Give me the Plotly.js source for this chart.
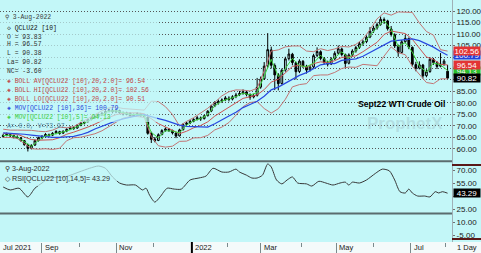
<!DOCTYPE html>
<html><head><meta charset="utf-8">
<script src="https://cdn.plot.ly/plotly-3.0.1.min.js"></script>
<style>html,body{margin:0;padding:0;background:#c3f7f8;overflow:hidden}#chart{width:481px;height:253px}</style>
</head><body><div id="chart"></div><script>
// ---------- DATA ----------
// trading-session index since 2 Aug 2021, one bar per two sessions
const barDay = []; for (let d = 0; d <= 252; d += 2) barDay.push(d);
const openV = [65.4,65.9,66.3,65.8,65.1,64.8,63.6,61.8,60.3,61.7, 63.7,64.8,65.6,66.2,66.0,66.9,67.5,66.9,67.8,68.6,
 69.3,69.1,70.4,71.2,72.0,72.9,73.7,74.2,74.9,75.6, 76.4,76.8,76.1,76.7,75.9,75.0,75.6,74.4,74.8,75.3,
 74.5,73.8,66.9,64.3,63.7,66.3,68.1,68.6,68.0,66.9, 65.7,68.4,70.7,71.3,72.1,72.9,73.5,73.2,74.5,76.5,
 78.8,80.0,80.8,81.4,82.1,81.7,82.8,83.6,84.2,84.8, 83.6,82.6,83.3,86.9,90.5,96.1,103.1,96.3,92.1,88.5,
 94.3,99.3,101.2,97.5,93.7,98.1,96.0,94.4,95.7,100.7, 102.3,99.3,97.6,97.0,99.2,101.7,103.5,101.0,97.3,101.0,
 102.7,104.2,105.9,106.7,108.7,111.3,112.7,114.2,116.3,115.7, 112.2,109.7,104.7,102.0,106.7,108.0,104.2,96.7,95.2,96.5,
 91.9,93.7,98.9,97.5,96.0,97.0,93.83];
const highV = [66.6,67.1,66.8,66.2,65.9,65.2,63.9,62.3,62.0,64.1, 65.3,66.0,66.9,66.7,67.3,68.2,67.9,68.1,69.0,69.9,
 69.8,70.8,71.9,72.5,73.3,74.2,74.6,75.4,76.1,76.9, 77.6,77.3,77.4,77.1,76.3,76.2,75.9,75.5,76.0,75.7,
 75.0,74.1,67.5,65.2,66.8,68.6,69.4,69.0,68.4,67.3, 68.8,71.2,71.8,72.6,73.4,74.3,74.1,74.9,76.9,79.2,
 80.8,81.5,82.0,83.0,82.9,83.4,84.4,85.2,85.9,85.3, 84.2,84.0,90.9,91.5,97.8,110.4,104.5,97.2,93.0,95.0,
 100.1,103.6,101.8,98.0,99.0,98.7,96.6,96.5,101.4,104.2, 102.9,100.0,98.4,99.9,102.5,105.0,104.1,101.5,101.6,103.4,
 104.9,106.6,107.5,109.4,113.0,113.6,115.0,117.6,117.2,116.2, 113.5,110.3,105.4,107.4,109.6,108.5,104.6,97.9,98.1,97.0,
 94.7,99.9,99.6,98.2,101.7,99.1,96.57];
const lowV = [64.9,65.5,65.2,64.6,64.3,63.2,61.4,58.9,59.8,61.3, 63.2,64.2,65.0,65.3,65.6,66.4,66.2,66.5,67.3,68.2,
 68.3,68.8,69.9,70.7,71.5,72.4,73.0,73.7,74.4,75.1, 75.9,75.5,75.6,75.2,74.5,74.6,73.7,73.9,74.5,73.9,
 73.6,66.2,62.6,62.9,63.4,65.9,67.5,67.4,66.3,64.7, 65.4,68.0,70.1,70.8,71.6,72.4,72.2,72.8,74.1,76.0,
 78.2,79.3,80.1,80.8,80.7,81.1,82.1,83.0,83.6,82.9, 81.4,82.0,82.8,86.2,90.0,95.3,95.0,85.6,85.5,88.0,
 93.6,98.5,96.4,90.2,93.0,95.2,92.8,93.7,95.2,99.9, 98.6,96.8,95.9,96.5,98.7,101.0,100.3,95.2,96.8,100.2,
 101.9,103.5,104.9,106.0,108.2,110.5,111.9,113.6,114.4,111.5, 108.9,103.9,100.1,101.5,105.9,103.4,95.8,93.8,94.6,90.6,
 91.2,93.1,96.6,94.8,95.5,96.2,90.38];
const closeV = [65.8,66.4,65.7,65.2,64.9,63.7,61.9,60.2,61.6,63.6, 64.9,65.5,66.3,65.9,66.8,67.6,66.8,67.7,68.5,69.2,
 69.0,70.3,71.3,71.9,72.8,73.6,74.1,74.8,75.5,76.3, 76.9,76.2,76.8,75.8,75.1,75.7,74.3,74.9,75.4,74.4,
 74.2,66.8,64.2,63.6,66.2,68.0,68.7,68.1,67.0,65.6, 68.3,70.6,71.2,72.0,72.8,73.6,73.1,74.4,76.4,78.7,
 80.1,80.7,81.3,82.2,81.6,82.7,83.5,84.1,84.9,83.7, 82.5,83.2,86.8,90.4,96.0,103.2,96.4,92.2,88.4,94.2,
 99.2,101.3,97.6,93.6,98.2,96.1,94.3,95.6,100.6,102.4, 99.4,97.7,96.9,99.1,101.6,103.6,101.1,97.2,100.9,102.6,
 104.1,105.8,106.6,108.6,111.2,112.6,114.1,116.4,115.8,112.3, 109.8,104.8,101.9,106.6,108.1,104.3,96.8,95.1,96.6,91.8,
 93.6,99.0,97.6,95.9,96.9,98.2,90.82];

// indicator curves, one point every four sessions
const indDay = []; for (let d = 0; d <= 252; d += 4) indDay.push(d);
const bollAv = [66.8,66.6,66.4,65.2,64.1,63.8,63.8,64.0,64.9,66.4,67.3,68.3,69.5,70.8,72.3,73.75,
 74.9,75.5,75.7,75.7,75.3,73.1,71.0,69.6,68.1,66.65,67.7,69.2,70.2,71.8,74.3,76.3,
 78.2,80.2,82.0,82.7,83.5,85.8,89.1,90.3,93.0,95.9,96.4,95.5,97.1,97.9,97.5,98.4,
 99.8,100.0,100.5,102.3,104.2,106.4,109.8,111.3,110.75,110.2,107.7,103.6,100.0,98.95,96.8,96.54];
const bollHi = [68.6,68.2,68.2,68.2,68.1,67.7,67.5,68.2,69.5,69.2,69.7,71.5,73.3,75.1,76.6,77.9,
 78.2,77.6,77.3,77.3,76.9,80.8,80.6,78.4,75.0,70.0,72.0,73.6,75.5,77.7,80.3,83.1,
 84.9,85.7,85.6,85.2,86.4,94.0,102.6,103.1,104.4,104.8,104.8,102.6,102.3,103.6,102.8,103.5,
 104.6,104.35,105.5,107.8,111.9,116.6,119.2,118.2,119.6,119.4,119.4,114.8,111.1,109.5,103.2,102.56];
const bollLo = [65.0,65.0,64.6,62.2,60.1,59.9,60.1,59.8,60.3,63.6,64.9,65.1,65.7,66.6,67.9,69.6,
 71.6,73.4,74.1,74.1,73.7,65.4,61.4,60.8,61.2,63.3,63.4,64.8,64.9,65.9,68.3,69.5,
 71.5,74.7,78.4,80.2,80.6,77.6,75.6,77.5,81.6,87.0,88.0,88.4,91.9,92.2,92.2,93.3,
 95.0,95.65,95.5,96.8,96.5,96.2,100.4,104.4,101.9,101.0,96.0,92.4,88.9,88.4,90.5,90.51];
const mov36 = [67.0,66.9,66.7,66.4,66.0,65.6,65.3,65.0,65.0,65.2,65.5,66.2,67.2,68.7,69.9,71.1,
 72.2,73.1,73.9,74.5,74.9,74.2,73.2,72.4,71.4,70.35,69.8,69.6,69.4,69.5,71.0,72.8,
 74.3,76.0,78.0,79.35,80.75,82.95,85.7,86.9,88.6,90.6,92.0,93.2,94.85,96.6,97.1,97.1,
 98.5,98.7,99.2,100.3,101.9,103.6,105.3,106.9,107.2,107.7,107.9,107.1,105.6,104.3,102.4,100.79];
const mov5 = [65.8,66.0,65.2,63.2,61.1,63.7,65.7,66.3,67.1,67.8,69.0,70.4,72.1,73.6,74.9,76.4,
 76.6,75.7,75.0,75.0,74.5,67.2,64.8,67.9,67.8,67.0,70.4,72.2,73.2,74.9,78.8,80.8,
 81.8,82.8,84.3,83.5,84.5,91.9,99.0,91.5,95.0,99.4,96.2,95.8,97.3,100.8,97.7,99.7,
 102.2,99.5,102.9,105.8,109.2,112.9,115.7,112.0,104.6,106.3,102.1,96.0,93.5,97.4,96.6,94.13];

// RSI (14,5)
const rsiDay = [0,4,9,14,18,22,26,35,43,49,54,58,62,66,70,75,79,81,83,86,89,93,97,101,106,111,115,119,124,128,
 132,134,138,141,144,147,150,152,155,158,161,164,167,172,175,179,183,187,191,194,196,198,202,206,211,215,219,222,
 225,228,230,232,235,239,242,245,247,249,252];
const rsiVal = [50.4,47,49,39,49,55,60.8,62,67.7,72,74.6,72,62,55,52.7,52.7,47,49,41,33,39,49,48,48,58.5,60.8,63,72,67.7,67.7,
 71,67.7,64,60.8,60.8,64,77,73.5,58.5,54,58.5,62,55,54,51.5,57,55,52.7,55,56,52.7,56,55,58.5,66,71,69,58.5,
 45,43.5,48,43.5,40,40,39,45,43.5,45,43.29];
const rsiLevels = [80, 20];

// axis ticks
const priceTicks = [60,65,70,75,80,85,90,95,100,105,110,115,120];
const priceHidden = [90,95,100];           // labels covered by the value boxes
const rsiTicks = [-5,10,25,40,55,70];
const rsiHidden = [40];
const majorTickDays = [22, 64, 107, 146, 189, 231];   // session index of month starts
const majorTickText = ['Sep', 'Nov', '2022', 'Mar', 'May', 'Jul'];
const minorTickDays = [43, 85, 127, 169, 210, 251];
const yearTickDay = 107;
const netChange = -3.60;

// ---------- LAYOUT ----------
const BG = '#c3f7f8';
const W = 481, H = 253, MR = 29, MB = 11;
const plotW = W - MR, plotH = H - MB;
const py = p => 1 - p / plotH;
const px = p => p / plotW;
const n = closeV.length, m = indDay.length;
const MONO = 'Liberation Mono, DejaVu Sans Mono, monospace';
const SANS = 'Liberation Sans, Arial, sans-serif';

const traces = [
 {type:'candlestick', x:barDay, open:openV, high:highV, low:lowV, close:closeV, xaxis:'x', yaxis:'y',
  increasing:{line:{color:'#000000', width:1}, fillcolor:BG},
  decreasing:{line:{color:'#000000', width:1}, fillcolor:'#000000'},
  whiskerwidth:0, hoverinfo:'skip', showlegend:false},
 {type:'scatter', mode:'lines', x:indDay, y:bollHi, xaxis:'x', yaxis:'y', line:{color:'#c27474', width:1}, hoverinfo:'skip', showlegend:false},
 {type:'scatter', mode:'lines', x:indDay, y:bollLo, xaxis:'x', yaxis:'y', line:{color:'#c27474', width:1}, hoverinfo:'skip', showlegend:false},
 {type:'scatter', mode:'lines', x:indDay, y:bollAv, xaxis:'x', yaxis:'y', line:{color:'#cc5252', width:1}, hoverinfo:'skip', showlegend:false},
 {type:'scatter', mode:'lines', x:indDay, y:mov36, xaxis:'x', yaxis:'y', line:{color:'#2848e0', width:1.2}, hoverinfo:'skip', showlegend:false},
 {type:'scatter', mode:'lines', x:indDay, y:mov5, xaxis:'x', yaxis:'y', line:{color:'#3ed83e', width:1}, hoverinfo:'skip', showlegend:false},
 {type:'scatter', mode:'lines', x:rsiDay, y:rsiVal, xaxis:'x', yaxis:'y2', line:{color:'#383838', width:1, shape:'spline', smoothing:0.7}, hoverinfo:'skip', showlegend:false}
];

const shapes = [
 {type:'rect', xref:'paper', yref:'paper', x0:-0.01, x1:1.08, y0:py(H), y1:0, fillcolor:'#f4fafa', line:{width:0}, layer:'below'},
 {type:'line', xref:'x', yref:'paper', x0:yearTickDay, x1:yearTickDay, y0:py(H), y1:0, line:{color:'#000000', width:2}},
 {type:'line', xref:'paper', yref:'paper', x0:1.0, x1:1.08, y0:py(165), y1:py(165), line:{color:'#5a1818', width:2}},
 {type:'line', xref:'paper', yref:'paper', x0:1.0, x1:1.08, y0:py(239), y1:py(239), line:{color:'#5a1818', width:2}},
 // translucent legend backgrounds
 {type:'rect', xref:'paper', yref:'paper', x0:0, x1:px(67), y0:py(22), y1:py(12), fillcolor:'rgba(195,247,248,0.72)', line:{width:0}, layer:'above'},
 {type:'rect', xref:'paper', yref:'paper', x0:0, x1:px(157), y0:py(122), y1:py(22), fillcolor:'rgba(195,247,248,0.72)', line:{width:0}, layer:'above'},
 {type:'rect', xref:'paper', yref:'paper', x0:0, x1:px(117), y0:py(186), y1:py(163), fillcolor:'rgba(195,247,248,0.72)', line:{width:0}, layer:'above'}
];
rsiLevels.forEach(v => shapes.push({type:'line', xref:'paper', yref:'y2', x0:0, x1:1, y0:v, y1:v, line:{color:'#5b6c6e', width:2}, layer:'below'}));

const ann = [];
const legend = [
 ['\u26B2 3-Aug-2022', '#3a3a3a', 3, 18],
 ['\u25C7 QCLU22 [10]', '#101010', 5, 28],
 ['O = ' + openV[n-1].toFixed(2), '#303030', 5, 37],
 ['H = ' + highV[n-1].toFixed(2), '#303030', 5, 45],
 ['L = ' + lowV[n-1].toFixed(2), '#303030', 5, 53],
 ['La= ' + closeV[n-1].toFixed(2), '#303030', 5, 62],
 ['NC= ' + netChange.toFixed(2), '#303030', 5, 71],
 ['\u25C8 BOLL AV[QCLU22 [10],20,2.0]= ' + bollAv[m-1].toFixed(2), '#c04646', 5, 81],
 ['\u25C8 BOLL HI[QCLU22 [10],20,2.0]= ' + bollHi[m-1].toFixed(2), '#c04646', 5, 90],
 ['\u25C8 BOLL LO[QCLU22 [10],20,2.0]= ' + bollLo[m-1].toFixed(2), '#c04646', 5, 99],
 ['\u25C8 MOV[QCLU22 [10],36]= ' + mov36[m-1].toFixed(2), '#2848d8', 5, 108],
 ['\u25C8 MOV[QCLU22 [10],5]= ' + mov5[m-1].toFixed(2), '#3ccf3c', 5, 117],
 ['A=-0.0, V=73.97', '#4a7f9a', 5, 126]
];
legend.forEach(([t, c, x, y]) => ann.push({xref:'paper', yref:'paper', x:px(x), y:py(y), xanchor:'left', yanchor:'middle',
  text:t, showarrow:false, font:{family:MONO, size:6.4, color:c}}));
[['\u26B2 3-Aug-2022', 168], ['\u25C7 RSI[QCLU22 [10],14,5]= ' + rsiVal[rsiVal.length-1].toFixed(2), 178]].forEach(([t, y]) =>
  ann.push({xref:'paper', yref:'paper', x:px(3), y:py(y), xanchor:'left', yanchor:'middle', text:t, showarrow:false,
   font:{family:SANS, size:7.2, color:'#2e2e2e'}}));

// right-axis value boxes
[[mov36[m-1], '#2540d8', 'y'], [bollHi[m-1], '#e23434', 'y'], [mov5[m-1], '#2cc02c', 'y'], [bollAv[m-1], '#e23434', 'y'],
 [closeV[n-1], '#000000', 'y'], [rsiVal[rsiVal.length-1], '#000000', 'y2']].forEach(([v, c, yr]) =>
  ann.push({xref:'paper', yref:yr, x:1, xshift:1, y:v, xanchor:'left', yanchor:'middle', text:v.toFixed(2), showarrow:false,
   bgcolor:c, borderpad:0, width:26, height:8, font:{family:SANS, size:8, color:'#ffffff'}}));

ann.push({xref:'paper', yref:'paper', x:px(401), y:py(104), xanchor:'center', yanchor:'middle', text:'<b>Sept22 WTI Crude Oil</b>',
  showarrow:false, font:{family:SANS, size:8.6, color:'#000000'}});
ann.push({xref:'paper', yref:'paper', x:px(405), y:py(124), xanchor:'center', yanchor:'middle', text:'<b>ProphetX</b>',
  showarrow:false, font:{family:SANS, size:17, color:'rgba(150,178,184,0.35)'}});

// x labels
ann.push({xref:'paper', yref:'paper', x:0, xshift:1, y:py(248), xanchor:'left', yanchor:'middle', text:'Jul 2021', showarrow:false,
  font:{family:SANS, size:7.5, color:'#202020'}});
majorTickDays.forEach((d, k) => ann.push({xref:'x', yref:'paper', x:d, xshift:1, y:py(248), xanchor:'left', yanchor:'middle',
  text:majorTickText[k], showarrow:false, font:{family:SANS, size:7.5, color:'#202020'}}));
ann.push({xref:'paper', yref:'paper', x:px(455), y:py(248), xanchor:'left', yanchor:'middle', text:'1 Day', showarrow:false,
  font:{family:SANS, size:7.5, color:'#202020'}});

const axisY = {side:'right', ticks:'outside', ticklen:2, tickcolor:'#707070', tickmode:'array',
  tickfont:{family:SANS, size:8, color:'#202020'}, showline:true, linecolor:'#9fb0b6', linewidth:1, zeroline:false, fixedrange:true};

const layout = {
 width:W, height:H, margin:{l:0, r:MR, t:0, b:MB, pad:0},
 paper_bgcolor:BG, plot_bgcolor:BG, showlegend:false, dragmode:false,
 xaxis:{range:[-1.8, 254.5], anchor:'y2', showgrid:false, zeroline:false, showticklabels:false,
  tickmode:'array', tickvals:majorTickDays, ticks:'outside', ticklen:11, tickcolor:'#7a8a8c', tickwidth:1,
  minor:{tickmode:'array', tickvals:minorTickDays, ticks:'outside', ticklen:4, tickcolor:'#7a8a8c', showgrid:false},
  rangeslider:{visible:false}, fixedrange:true},
 yaxis:Object.assign({}, axisY, {domain:[1 - 157/plotH, 1], range:[56.5, 124.8],
  tickvals:priceTicks, ticktext:priceTicks.map(v => priceHidden.includes(v) ? '' : v.toFixed(2)),
  showgrid:true, gridcolor:'#555555', griddash:'1px,2px', gridwidth:1, anchor:'x'}),
 yaxis2:Object.assign({}, axisY, {domain:[0, 1 - 157/plotH], range:[-13, 85],
  tickvals:rsiTicks, ticktext:rsiTicks.map(v => rsiHidden.includes(v) ? '' : v.toFixed(2)),
  showgrid:false, anchor:'x'}),
 shapes:shapes, annotations:ann
};

Plotly.newPlot('chart', traces, layout, {staticPlot:true, displayModeBar:false});
</script></body></html>
